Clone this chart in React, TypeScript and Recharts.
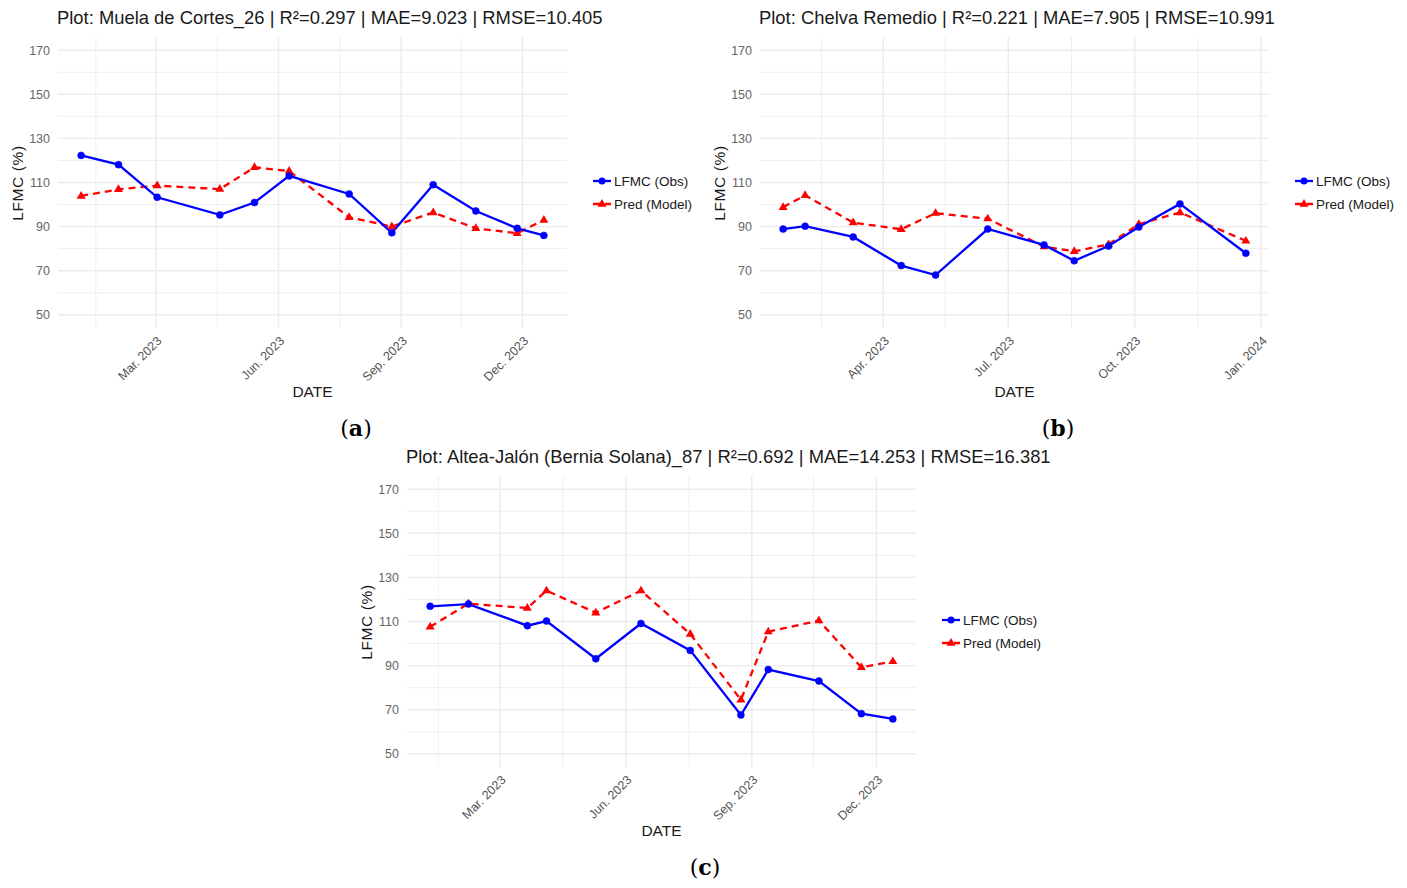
import React from 'react';
import { LineChart, Line, XAxis, YAxis, CartesianGrid } from 'recharts';

// panel (a) Muela de Cortes_26
const datesA = ['2023-01-04', '2023-02-01', '2023-03-02', '2023-04-18', '2023-05-14', '2023-06-09', '2023-07-24', '2023-08-25', '2023-09-25', '2023-10-27', '2023-11-27', '2023-12-17'];
const obsA = [122.3, 118.1, 103.3, 95.3, 100.9, 113.0, 104.8, 87.2, 109.0, 97.1, 89.2, 86.0];
const predA = [103.9, 106.9, 108.6, 107.0, 116.9, 115.2, 94.2, 90.0, 96.4, 89.2, 87.0, 93.0];

// panel (b) Chelva Remedio
const datesB = ['2023-01-18', '2023-02-03', '2023-03-10', '2023-04-14', '2023-05-09', '2023-06-16', '2023-07-27', '2023-08-18', '2023-09-12', '2023-10-04', '2023-11-03', '2023-12-21'];
const obsB = [88.9, 90.2, 85.3, 72.3, 68.0, 88.9, 81.7, 74.5, 81.2, 89.8, 100.3, 77.9];
const predB = [98.8, 104.2, 91.8, 88.8, 96.1, 93.6, 80.9, 78.8, 81.9, 91.1, 96.4, 83.5];

// panel (c) Altea-Jalón (Bernia Solana)_87
const datesC = ['2023-01-09', '2023-02-06', '2023-03-21', '2023-04-04', '2023-05-10', '2023-06-12', '2023-07-18', '2023-08-24', '2023-09-13', '2023-10-20', '2023-11-20', '2023-12-13'];
const obsC = [116.9, 117.9, 108.1, 110.2, 93.1, 109.1, 96.9, 67.6, 88.2, 83.0, 68.2, 65.8];
const predC = [107.6, 118.1, 116.1, 124.0, 114.0, 124.0, 104.3, 74.5, 105.4, 110.4, 89.2, 91.9];

// axis breaks
const majorsMJSD = ['2023-03-01', '2023-06-01', '2023-09-01', '2023-12-01'];
const labelsMJSD = ['Mar. 2023', 'Jun. 2023', 'Sep. 2023', 'Dec. 2023'];
const minorsMJSD = ['2023-01-15', '2023-04-16', '2023-07-17', '2023-10-16'];
const majorsAJOJ = ['2023-04-01', '2023-07-01', '2023-10-01', '2024-01-01'];
const labelsAJOJ = ['Apr. 2023', 'Jul. 2023', 'Oct. 2023', 'Jan. 2024'];
const minorsAJOJ = ['2023-02-15', '2023-05-16', '2023-08-16', '2023-11-16'];
const yTicks = [50, 60, 70, 80, 90, 100, 110, 120, 130, 140, 150, 160, 170];
const Y_MIN = 44;
const Y_MAX = 176;

const FONT = '"Liberation Sans", Arial, Helvetica, sans-serif';
const PW = 509; // plot width
const PH = 291; // plot height
const LEFT = 58;
const TOP = 37;

const ts = (d: string) => Date.parse(d + 'T00:00:00Z');

const Triangle = (props: any) => {
  const { cx, cy } = props;
  if (cx == null || cy == null) return null;
  return <path d={`M${cx},${cy - 5} L${cx + 4.5},${cy + 2.7} L${cx - 4.5},${cy + 2.7} Z`} fill="#ff0000" />;
};

const Panel = ({ x0, y0, title, dates, obs, pred, majors, labels, minors, caption }: any) => {
  const data = dates.map((d: string, i: number) => ({ t: ts(d), obs: obs[i], pred: pred[i] }));
  const t0 = data[0].t;
  const t1 = data[data.length - 1].t;
  const pad = (t1 - t0) * 0.05;
  const xMin = t0 - pad;
  const xMax = t1 + pad;
  const majorTs = majors.map(ts);
  const ticks = [...majors, ...minors].map(ts).sort((a, b) => a - b);
  const labelOf: Record<number, string> = {};
  majors.forEach((m: string, i: number) => (labelOf[ts(m)] = labels[i]));

  const XTick = ({ x, y, payload }: any) => {
    const lab = labelOf[payload.value];
    if (!lab) return null;
    return (
      <text x={x} y={y - 1} transform={`rotate(-45 ${x} ${y - 1})`} textAnchor="end" dy="0.75em"
        fontSize={12.5} fill="#555" fontFamily={FONT}>{lab}</text>
    );
  };

  const hLine = (p: any) => {
    const y = p.y1;
    if (Math.abs(y - TOP) < 0.6 || Math.abs(y - (TOP + PH)) < 0.6) return <g key={p.key} />;
    const v = Math.round(Y_MAX - ((y - TOP) / PH) * (Y_MAX - Y_MIN));
    const major = v % 20 === 10;
    return <line key={p.key} x1={p.x1} x2={p.x2} y1={y} y2={y} stroke="#ebebeb" strokeWidth={major ? 1.4 : 0.8} />;
  };
  const vLine = (p: any) => {
    const x = p.x1;
    if (Math.abs(x - LEFT) < 0.6 || Math.abs(x - (LEFT + PW)) < 0.6) return <g key={p.key} />;
    const t = xMin + ((x - LEFT) / PW) * (xMax - xMin);
    const major = majorTs.some((m: number) => Math.abs(m - t) < 86400000 * 3);
    return <line key={p.key} x1={x} x2={x} y1={p.y1} y2={p.y2} stroke="#ebebeb" strokeWidth={major ? 1.4 : 0.8} />;
  };

  return (
    <div style={{ position: 'absolute', left: x0 - LEFT, top: y0 - TOP, width: 760, height: 420, fontFamily: FONT }}>
      <div style={{ position: 'absolute', left: LEFT - 1, top: 7, fontSize: 18.4, lineHeight: '22px', color: '#1a1a1a', whiteSpace: 'nowrap' }}>{title}</div>
      <LineChart width={LEFT + PW + 10} height={TOP + PH + 70} data={data}
        margin={{ top: TOP, right: 10, bottom: 0, left: 0 }}>
        <CartesianGrid horizontal={hLine} vertical={vLine} />
        <XAxis dataKey="t" type="number" scale="time" domain={[xMin, xMax]} ticks={ticks}
          height={70} axisLine={false} tickLine={false} tick={<XTick />} interval={0} />
        <YAxis type="number" domain={[Y_MIN, Y_MAX]} ticks={yTicks} width={LEFT} axisLine={false} tickLine={false}
          tick={{ fontSize: 12.5, fill: '#666', fontFamily: FONT }}
          tickFormatter={(v: number) => (v % 20 === 10 ? String(v) : '')} interval={0} />
        <Line dataKey="pred" stroke="#ff0000" strokeWidth={2.3} strokeDasharray="7 5" dot={<Triangle />}
          isAnimationActive={false} />
        <Line dataKey="obs" stroke="#0000ff" strokeWidth={2.3} dot={{ r: 3.5, fill: '#0000ff', stroke: '#0000ff', strokeWidth: 0.5 }}
          isAnimationActive={false} />
      </LineChart>
      <div style={{ position: 'absolute', left: 18, top: TOP + PH / 2, transform: 'translate(-50%, -50%) rotate(-90deg)', fontSize: 15.5, letterSpacing: 0.6, color: '#1a1a1a', whiteSpace: 'nowrap' }}>LFMC (%)</div>
      <div style={{ position: 'absolute', left: LEFT + PW / 2, top: TOP + PH + 64, transform: 'translate(-50%, -50%)', fontSize: 15.5, color: '#1a1a1a' }}>DATE</div>
      <div style={{ position: 'absolute', left: LEFT + PW + 26, top: TOP + 144 - 10, fontSize: 13.5, color: '#1a1a1a', whiteSpace: 'nowrap' }}>
        <div style={{ display: 'flex', alignItems: 'center', height: 20 }}>
          <svg width={18} height={20}>
            <line x1={0} y1={10} x2={18} y2={10} stroke="#0000ff" strokeWidth={2.3} />
            <circle cx={9} cy={10} r={3.5} fill="#0000ff" />
          </svg>
          <span style={{ marginLeft: 3 }}>LFMC (Obs)</span>
        </div>
        <div style={{ display: 'flex', alignItems: 'center', height: 20, marginTop: 3 }}>
          <svg width={18} height={20}>
            <line x1={0} y1={10} x2={18} y2={10} stroke="#ff0000" strokeWidth={2.3} strokeDasharray="7 5" />
            <path d="M9,5 L13.5,12.7 L4.5,12.7 Z" fill="#ff0000" />
          </svg>
          <span style={{ marginLeft: 3 }}>Pred (Model)</span>
        </div>
      </div>
      <div style={{ position: 'absolute', left: LEFT + 298, top: TOP + PH + 100, transform: 'translate(-50%, -50%)', fontFamily: '"DejaVu Serif", "Liberation Serif", serif', fontSize: 22, color: '#000', whiteSpace: 'nowrap' }}>
        (<b>{caption}</b>)
      </div>
    </div>
  );
};

export default function App() {
  return (
    <div style={{ position: 'absolute', left: 0, top: 0, width: 1407, height: 888, background: '#fff', overflow: 'hidden' }}>
      <Panel x0={58} y0={37} title="Plot: Muela de Cortes_26 | R²=0.297 | MAE=9.023 | RMSE=10.405"
        dates={datesA} obs={obsA} pred={predA} majors={majorsMJSD} labels={labelsMJSD} minors={minorsMJSD} caption="a" />
      <Panel x0={760} y0={37} title="Plot: Chelva Remedio | R²=0.221 | MAE=7.905 | RMSE=10.991"
        dates={datesB} obs={obsB} pred={predB} majors={majorsAJOJ} labels={labelsAJOJ} minors={minorsAJOJ} caption="b" />
      <Panel x0={407} y0={476} title="Plot: Altea-Jalón (Bernia Solana)_87 | R²=0.692 | MAE=14.253 | RMSE=16.381"
        dates={datesC} obs={obsC} pred={predC} majors={majorsMJSD} labels={labelsMJSD} minors={minorsMJSD} caption="c" />
    </div>
  );
}
